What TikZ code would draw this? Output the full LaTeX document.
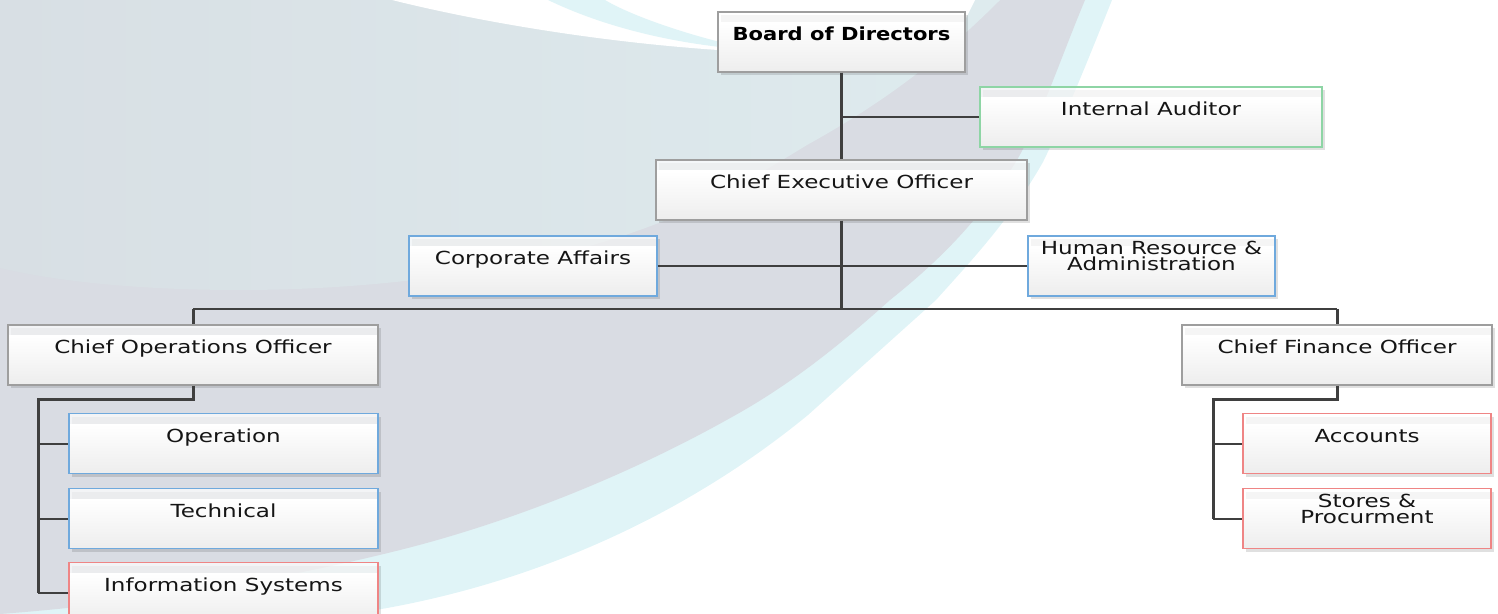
\documentclass[tikz,border=0pt]{standalone}
\usepackage{fontspec}
\newfontfamily\boxfont[FakeStretch=1.28]{DejaVu Sans}
\newfontfamily\headfont[FakeStretch=1.17, UprightFont=* Bold]{DejaVu Sans}
\usepackage{tikz}
\usetikzlibrary{positioning}
\usetikzlibrary{shadows}

\definecolor{paleLeft}{HTML}{D8DFE4}
\definecolor{paleRight}{HTML}{DEEBEE}
\definecolor{discGrey}{HTML}{D9DCE3}
\definecolor{bandCyan}{HTML}{E0F4F7}
\definecolor{wireGrey}{HTML}{3F3F3F}
\definecolor{edgeGrey}{HTML}{9E9E9E}
\definecolor{edgeBlue}{HTML}{6FA9DD}
\definecolor{edgeRed}{HTML}{EF8585}
\definecolor{edgeGreen}{HTML}{8ED5A5}
\definecolor{inkBlack}{HTML}{151515}

\tikzset{
	unit/.style={rectangle, draw=edgeGrey, line width=0.6pt,
		minimum height=30pt, inner xsep=0pt, inner ysep=0pt,
		text height=14.25pt, text depth=15.75pt, text=inkBlack,
		font=\boxfont\fontsize{9}{8}\selectfont,
		drop shadow={shadow xshift=1.5pt, shadow yshift=-1.5pt, opacity=0.12, fill=black},
		path picture={
			\fill[white, opacity=0.7] (path picture bounding box.north west)
				rectangle ([yshift=-5.5pt]path picture bounding box.north east);
			\shade[top color=white, bottom color=black!7]
				([yshift=-5.5pt]path picture bounding box.north west)
				rectangle (path picture bounding box.south east);
		}},
	head/.style={font=\headfont\fontsize{9}{8}\selectfont, text=black},
	twoline/.style={align=center, text height=17.5pt, text depth=12.5pt},
	blueunit/.style={unit, draw=edgeBlue},
	redunit/.style={unit, draw=edgeRed},
	greenunit/.style={unit, draw=edgeGreen},
	trunk/.style={draw=wireGrey, line width=1.5pt},
	twig/.style={draw=wireGrey, line width=1pt}
}

\begin{document}
\begin{tikzpicture}[x=0.5pt, y=-0.5pt]

	% ------------------------------------------------
	% Ensure the dimensions of graphic are appropriate
	\useasboundingbox (0,0) rectangle (1498,614);

	% ------------------------------------------------
	% Background swirls
	\fill[bandCyan] (0,0) -- (1112,0)
		.. controls (1088,60) and (1066,115) .. (1043,162)
		.. controls (1010,220) and (970,262) .. (936,300)
		-- (808,415)
		.. controls (680,520) and (520,590) .. (350,614)
		-- (0,614) -- cycle;

	\fill[discGrey] (0,0) -- (1085,0)
		.. controls (1060,60) and (1040,120) .. (1017,160)
		.. controls (980,220) and (940,260) .. (890,300)
		.. controls (840,345) and (790,385) .. (732,417)
		.. controls (620,480) and (500,525) .. (400,550)
		.. controls (260,585) and (120,605) .. (0,614) -- cycle;

	\shade[left color=paleLeft, right color=paleRight] (0,0) -- (1000,0)
		.. controls (930,70) and (870,110) .. (807,145)
		.. controls (750,180) and (700,208) .. (656,224)
		.. controls (550,265) and (400,290) .. (240,290)
		.. controls (140,290) and (60,282) .. (0,268) -- cycle;

	\fill[white] (392,0)
		.. controls (480,22) and (600,42) .. (718,50)
		-- (960,30) -- (975,0) -- cycle;
	\fill[bandCyan] (548,0)
		.. controls (600,25) and (660,40) .. (720,47)
		-- (720,42)
		.. controls (680,32) and (630,15) .. (605,0) -- cycle;

	% ----------------
	% Boxes
	\node[unit, head, minimum width=123.5pt] (BoardBox) at (841.5,42) {Board of Directors};
	\node[greenunit, minimum width=171pt] (IaBox) at (1151,117) {Internal Auditor};
	\node[unit, minimum width=185.5pt] (CeoBox) at (841.5,190) {Chief Executive Officer};
	\node[blueunit, minimum width=124pt] (CorpBox) at (533,266) {Corporate Affairs};
	\node[blueunit, twoline, minimum width=123.5pt] (HrBox) at (1151.5,266) {Human Resource \&\\Administration};

	\node[unit, minimum width=185pt] (CooBox) at (193,355) {Chief Operations Officer};
	\node[unit, minimum width=155pt] (CfoBox) at (1337,355) {Chief Finance Officer};

	\node[blueunit, minimum width=154.5pt] (OpBox) at (223.5,443.5) {Operation};
	\node[blueunit, minimum width=154.5pt] (TechBox) at (223.5,518.5) {Technical};
	\node[redunit, minimum width=154.5pt] (IsBox) at (223.5,592.5) {Information Systems};

	\node[redunit, minimum width=124pt] (AccBox) at (1367,443.5) {Accounts};
	\node[redunit, twoline, minimum width=124pt] (SpBox) at (1367,518.5) {Stores \&\\Procurment};

	% ----------------
	% Relevant coordinates
	\coordinate (BusMid) at (841.5,309);
	\path (CooBox.south) +(-155,14) coordinate (CooElbow);
	\path (CfoBox.south) +(-124,14) coordinate (CfoElbow);

	%%%%%%%%%%%%%%%%%%%%%%%%%%%%%%%%%%%%%%%%%
	%Connectors
	\draw[trunk] (BoardBox) -- (CeoBox);
	\draw[twig] (BoardBox.south |- IaBox.west) -- (IaBox.west);
	\draw[trunk] (CeoBox.south) -- (BusMid);
	\draw[twig] (CorpBox.east) -- (HrBox.west);

	\draw[twig] (CooBox.north |- BusMid) -- (CfoBox.north |- BusMid);
	\draw[trunk] (CooBox.north |- BusMid) -- (CooBox.north);
	\draw[trunk] (CfoBox.north |- BusMid) -- (CfoBox.north);

	\draw[trunk] (CooBox.south) |- (CooElbow) -- (CooElbow |- IsBox.west);
	\foreach \leaf in {OpBox, TechBox, IsBox}
		\draw[twig] (CooElbow |- \leaf.west) -- (\leaf.west);

	\draw[trunk] (CfoBox.south) |- (CfoElbow) -- (CfoElbow |- SpBox.west);
	\foreach \leaf in {AccBox, SpBox}
		\draw[twig] (CfoElbow |- \leaf.west) -- (\leaf.west);

\end{tikzpicture}
\end{document}
